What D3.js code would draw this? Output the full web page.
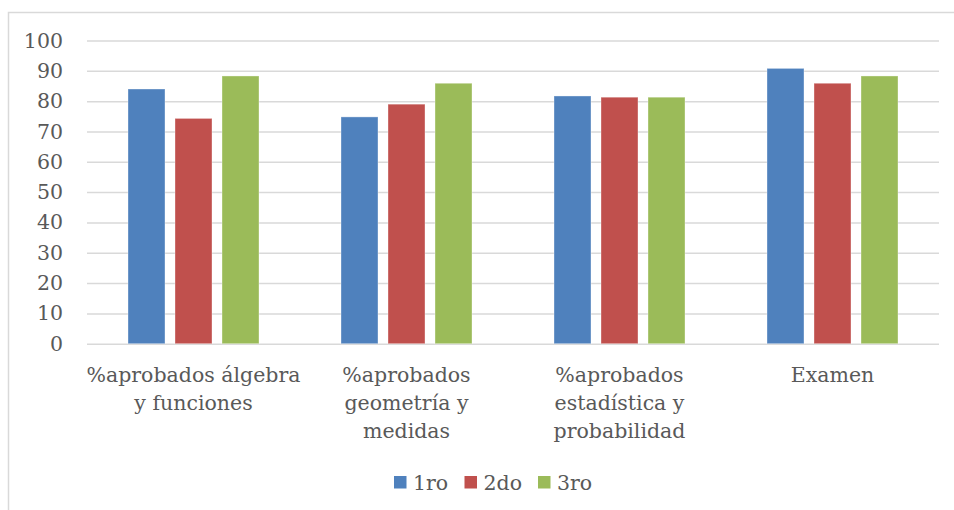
<!DOCTYPE html>
<html>
<head>
<meta charset="utf-8">
<script src="https://cdn.jsdelivr.net/npm/d3@7"></script>
<style>
  html, body { margin: 0; padding: 0; background: #fff; }
  svg { display: block; }
  text { font-family: "DejaVu Serif", serif; fill: #595959; }
</style>
</head>
<body>
<svg id="chart" width="954" height="510"></svg>
<script>
// Categories (each entry is the list of wrapped label lines)
const categories = [
  ["%aprobados álgebra", "y funciones"],
  ["%aprobados", "geometría y", "medidas"],
  ["%aprobados", "estadística y", "probabilidad"],
  ["Examen"]
];
const seriesNames = ["1ro", "2do", "3ro"];
const primero = [84, 74.8, 81.7, 90.8];
const segundo = [74.3, 79, 81.3, 85.9];
const tercero = [88.3, 85.9, 81.3, 88.3];
const yTicks = [0, 10, 20, 30, 40, 50, 60, 70, 80, 90, 100];
const colors = ["#4f81bd", "#c0504d", "#9bbb59"];

const seriesValues = [primero, segundo, tercero];
const rows = categories.map((c, i) => ({
  key: i,
  lines: c,
  values: seriesNames.map((s, j) => ({ series: s, value: seriesValues[j][i] }))
}));

const svg = d3.select("#chart");
const fontSize = 20.5;

// Outer chart frame (top and left edges visible)
svg.append("path")
  .attr("d", "M8.5,510 L8.5,12.5 L954,12.5")
  .attr("fill", "none")
  .attr("stroke", "#d9d9d9")
  .attr("stroke-width", 1.5);

const plotLeft = 87, plotRight = 939, plotTop = 40.5, plotBottom = 343.7;

const x0 = d3.scaleBand()
  .domain(rows.map(d => d.key))
  .range([plotLeft, plotRight])
  .paddingInner(0.385)
  .paddingOuter(0.1925);

const x1 = d3.scaleBand()
  .domain(seriesNames)
  .range([0, x0.bandwidth()])
  .paddingInner(0.213)
  .paddingOuter(0);

const y = d3.scaleLinear().domain([0, 100]).range([plotBottom, plotTop]);

// Gridlines and y tick labels
const yAxis = svg.append("g")
  .attr("transform", `translate(${plotLeft},0)`)
  .call(d3.axisLeft(y).tickValues(yTicks).tickSize(-(plotRight - plotLeft)).tickPadding(24).tickFormat(d3.format("d")));
yAxis.select(".domain").remove();
yAxis.selectAll(".tick line").attr("stroke", "#d9d9d9").attr("stroke-width", 1.5);
yAxis.selectAll(".tick text")
  .attr("font-size", fontSize)
  .attr("font-family", "DejaVu Serif, serif")
  .attr("fill", "#595959");

// Bars
const groups = svg.append("g").selectAll("g")
  .data(rows)
  .join("g")
  .attr("transform", d => `translate(${x0(d.key)},0)`);

groups.selectAll("rect")
  .data(d => d.values)
  .join("rect")
  .attr("x", d => x1(d.series))
  .attr("y", d => y(d.value))
  .attr("width", x1.bandwidth())
  .attr("height", d => y(0) - y(d.value))
  .attr("fill", (d, i) => colors[i])
  .attr("stroke", "rgba(255,255,255,0.35)")
  .attr("stroke-width", 1);

// Category labels
const lineHeight = 28.3;
const catLabels = svg.append("g").selectAll("text")
  .data(rows)
  .join("text")
  .attr("text-anchor", "middle")
  .attr("font-size", fontSize)
  .attr("x", d => x0(d.key) + x0.bandwidth() / 2)
  .attr("y", 381.7);
catLabels.selectAll("tspan")
  .data(d => d.lines.map(l => ({ l, cx: x0(d.key) + x0.bandwidth() / 2 })))
  .join("tspan")
  .attr("x", d => d.cx)
  .attr("dy", (d, i) => i === 0 ? 0 : lineHeight)
  .text(d => d.l);

// Legend
const legendX = [394, 464.5, 538];
const legend = svg.append("g").selectAll("g")
  .data(seriesNames)
  .join("g")
  .attr("transform", (d, i) => `translate(${legendX[i]},476)`);
legend.append("rect")
  .attr("width", 12.5).attr("height", 12.5)
  .attr("fill", (d, i) => colors[i]);
legend.append("text")
  .attr("x", 19)
  .attr("y", 13.5)
  .attr("font-size", fontSize)
  .text(d => d);
</script>
</body>
</html>
